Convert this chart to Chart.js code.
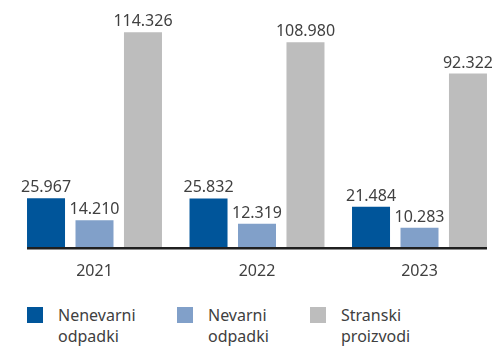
<!DOCTYPE html>
<html>
<head>
<meta charset="utf-8">
<script src="https://cdn.jsdelivr.net/npm/chart.js@4"></script>
<style>
    html, body { margin: 0; padding: 0; background: #fff; }
    body { width: 492px; height: 346px; position: relative; overflow: hidden; font-family: 'Noto Sans', sans-serif; }
    #wrap { position: absolute; left: 0; top: 0; width: 492px; height: 299px; }
    .leg { position: absolute; top: 305px; font-size: 16px; line-height: 21px; color: #404040; }
    .leg .box { position: absolute; left: 0; top: 2px; width: 16px; height: 16px; }
    .leg .txt { position: absolute; left: 31px; top: 0; white-space: nowrap; }
</style>
</head>
<body>
<div id="wrap"><canvas id="wasteChart"></canvas></div>
<div id="legend"></div>
<script>
// Kolicine po letih
const years = ['2021', '2022', '2023'];
const nenevarni = [25967, 25832, 21484];
const nevarni = [14210, 12319, 10283];
const stranski = [114326, 108980, 92322];

const seriesNames = [['Nenevarni', 'odpadki'], ['Nevarni', 'odpadki'], ['Stranski', 'proizvodi']];
const seriesColors = ['#00559a', '#81a0c9', '#bdbdbd'];
const legendLeft = [27, 177, 310];

const fontFamily = "'Noto Sans', sans-serif";
const textColor = '#404040';

// 25967 -> 25.967
function fmt(v) {
    return String(v).replace(/\B(?=(\d{3})+(?!\d))/g, '.');
}

// labels above bars + baseline under the groups
const barExtras = {
    id: 'barExtras',
    afterDatasetsDraw(chart) {
        const ctx = chart.ctx;
        ctx.save();
        ctx.font = '16px ' + fontFamily;
        ctx.fillStyle = textColor;
        ctx.textAlign = 'center';
        ctx.textBaseline = 'alphabetic';
        chart.data.datasets.forEach((ds, i) => {
            chart.getDatasetMeta(i).data.forEach((bar, j) => {
                ctx.fillText(fmt(ds.data[j]), bar.x, bar.y - 6);
            });
        });

        const first = chart.getDatasetMeta(0).data[0];
        const lastMeta = chart.getDatasetMeta(chart.data.datasets.length - 1).data;
        const last = lastMeta[lastMeta.length - 1];
        const y0 = chart.scales.y.getPixelForValue(0);
        ctx.fillStyle = '#1f1f1f';
        ctx.fillRect(first.x - first.width / 2, y0, (last.x + last.width / 2) - (first.x - first.width / 2), 2.5);
        ctx.restore();
    }
};

const datasets = [nenevarni, nevarni, stranski].map((data, i) => ({
    label: seriesNames[i].join(' '),
    data: data,
    backgroundColor: seriesColors[i],
    borderWidth: 0,
    categoryPercentage: 0.895,
    barPercentage: 0.784,
    clip: false
}));

new Chart(document.getElementById('wasteChart'), {
    type: 'bar',
    data: { labels: years, datasets: datasets },
    options: {
        responsive: true,
        maintainAspectRatio: false,
        animation: false,
        layout: { padding: { left: 94.5, right: 72.5, top: 2.8, bottom: 11 } },
        plugins: {
            legend: { display: false },
            tooltip: { enabled: false }
        },
        scales: {
            x: {
                offset: false,
                grid: { display: false },
                border: { display: false },
                ticks: { color: textColor, padding: 6.9, font: { family: fontFamily, size: 16 } }
            },
            y: {
                display: false,
                min: 0,
                max: 130000
            }
        }
    },
    plugins: [barExtras]
});

// legend underneath
const legend = document.getElementById('legend');
seriesNames.forEach((name, i) => {
    const item = document.createElement('div');
    item.className = 'leg';
    item.style.left = legendLeft[i] + 'px';
    item.innerHTML = '<span class="box" style="background:' + seriesColors[i] + '"></span>' +
        '<span class="txt">' + name.join('<br>') + '</span>';
    legend.appendChild(item);
});
</script>
</body>
</html>
